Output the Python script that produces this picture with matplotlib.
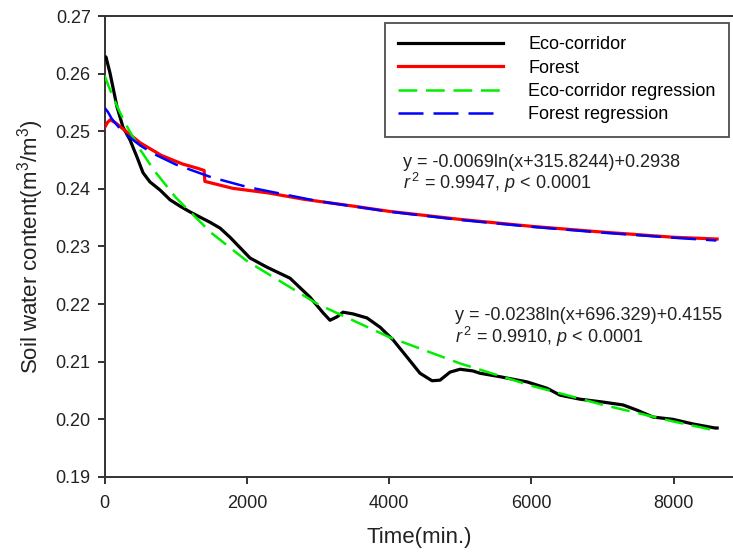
import matplotlib
matplotlib.use('Agg')
import matplotlib.pyplot as plt

plt.rcParams['font.family'] = ['Liberation Sans', 'DejaVu Sans']
plt.rcParams['mathtext.fontset'] = 'custom'
plt.rcParams['mathtext.rm'] = 'Liberation Sans'
plt.rcParams['mathtext.it'] = 'Liberation Sans:italic'

eco_time = [0, 20, 77, 176, 260, 358, 457, 541, 639, 780, 921, 1061, 1202, 1342,
            1483, 1623, 1764, 2045, 2284, 2607, 2888, 3071, 3169, 3268, 3352, 3493,
            3689, 3872, 4055, 4252, 4434, 4603, 4715, 4856, 4997, 5179, 5278, 5559,
            5938, 6219, 6402, 6683, 7006, 7288, 7484, 7709, 7990, 8271, 8580, 8610]
eco_swc = [0.2625, 0.2629, 0.2601, 0.2542, 0.2507, 0.2485, 0.2455, 0.2428, 0.2412,
           0.2398, 0.2381, 0.2370, 0.2360, 0.2351, 0.2342, 0.2332, 0.2316, 0.2280,
           0.2264, 0.2245, 0.2212, 0.2185, 0.2172, 0.2178, 0.2186, 0.2183, 0.2176,
           0.2160, 0.2138, 0.2108, 0.2080, 0.2067, 0.2068, 0.2082, 0.2087, 0.2084,
           0.2080, 0.2074, 0.2065, 0.2054, 0.2042, 0.2035, 0.2030, 0.2025, 0.2016,
           0.2004, 0.2000, 0.1992, 0.1985, 0.1985]

# Forest measured soil water content
forest_time = [0, 40, 80, 150, 300, 500, 800, 1100, 1300, 1400, 1410, 1800, 2300,
               2800, 3500, 4000, 5000, 6000, 7000, 8000, 8610]
forest_swc = [0.2506, 0.2515, 0.2520, 0.2515, 0.2500, 0.2480, 0.2458, 0.2443,
              0.2436, 0.2432, 0.2413, 0.2401, 0.2393, 0.2382, 0.2370, 0.2361,
              0.2347, 0.2335, 0.2325, 0.2316, 0.2313]

# Regression curves (values at the plotted times)
reg_time = [0, 50, 100, 200, 300, 500, 700, 1000, 1500, 2000, 3000, 4000,
            5000, 6000, 7000, 8000, 8600]
eco_reg = [0.25971, 0.25806, 0.25652, 0.25370, 0.25118, 0.24683, 0.24315,
           0.23852, 0.23237, 0.22749, 0.21998, 0.21428, 0.20969, 0.20584,
           0.20253, 0.19962, 0.19803]
forest_reg = [0.25409, 0.25330, 0.25219, 0.25070, 0.24948, 0.24754, 0.24603,
              0.24424, 0.24202, 0.24034, 0.23787, 0.23605, 0.23461, 0.23342,
              0.23240, 0.23152, 0.23104]

x_ticks = [0, 2000, 4000, 6000, 8000]
y_ticks = [0.19, 0.20, 0.21, 0.22, 0.23, 0.24, 0.25, 0.26, 0.27]

fig = plt.figure(figsize=(7.33, 5.52), dpi=100)
ax = fig.add_axes([0.1426, 0.1359, 0.8574, 0.8351])

ax.plot(eco_time, eco_swc, color='black', lw=2.3, label='Eco-corridor', zorder=3)
ax.plot(forest_time, forest_swc, color='#ff0000', lw=2.3, label='Forest', zorder=3)
l1, = ax.plot(reg_time, eco_reg, color='#00ee00', lw=1.8,
              label='Eco-corridor regression', zorder=4)
l1.set_dashes([7.5, 3.5])
l2, = ax.plot(reg_time, forest_reg, color='#0000ff', lw=1.8,
              label='Forest regression', zorder=4)
l2.set_dashes([10, 4])

ax.set_xlim(0, 8833)
ax.set_ylim(0.19, 0.27)
ax.set_xticks(x_ticks)
ax.set_yticks(y_ticks)
ax.yaxis.set_major_formatter(matplotlib.ticker.FormatStrFormatter('%.2f'))
ax.tick_params(direction='out', length=5, width=1.4, color='#333333',
               labelsize=13, labelcolor='#222222')
ax.tick_params(axis='x', pad=8)
ax.tick_params(axis='y', pad=5)
for s in ['left', 'top', 'bottom']:
    ax.spines[s].set_linewidth(1.4)
    ax.spines[s].set_color('#333333')
ax.spines['right'].set_visible(False)

ax.set_xlabel('Time(min.)', fontsize=16, labelpad=11, color='#222222')
ax.set_ylabel('Soil water content(m$^3$/m$^3$)', fontsize=16, labelpad=7,
              color='#222222')

leg = ax.legend(loc='upper left', bbox_to_anchor=(0.446, 0.985), borderaxespad=0,
                fontsize=13, frameon=True, fancybox=False, handlelength=5.8,
                handletextpad=1.4, labelspacing=0.35, borderpad=0.75)
leg.get_frame().set_edgecolor('#222222')
leg.get_frame().set_linewidth(1.3)

ax.text(4195, 0.2445, 'y = -0.0069ln(x+315.8244)+0.2938', fontsize=13,
        va='center', color='#222222')
ax.text(4195, 0.2410, r'$r^{\,2}$ = 0.9947, $p$ < 0.0001', fontsize=13,
        va='center', color='#222222')
ax.text(4926, 0.2181, 'y = -0.0238ln(x+696.329)+0.4155', fontsize=13,
        va='center', color='#222222')
ax.text(4926, 0.2143, r'$r^{\,2}$ = 0.9910, $p$ < 0.0001', fontsize=13,
        va='center', color='#222222')

fig.savefig('out.png', dpi=100, facecolor='white')
